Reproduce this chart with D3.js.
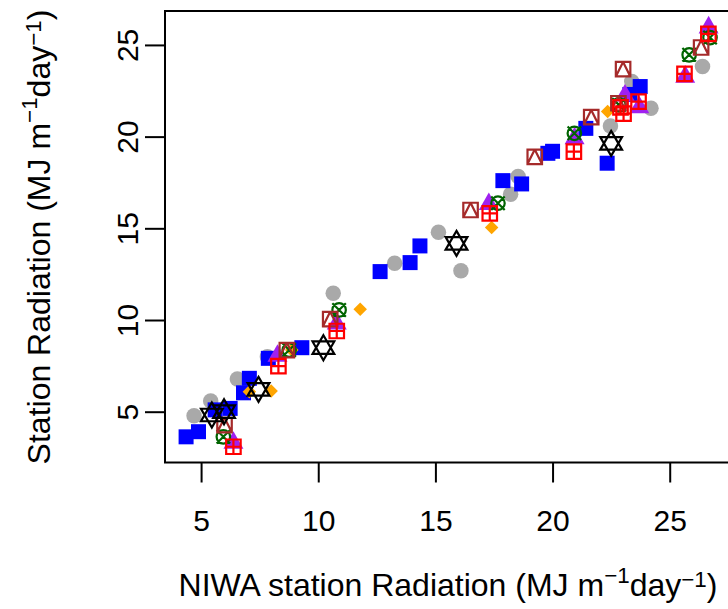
<!DOCTYPE html>
<html><head><meta charset="utf-8">
<script src="https://cdn.jsdelivr.net/npm/d3@7"></script>
<style>html,body{margin:0;padding:0;background:#fff}svg{display:block}text{font-family:"Liberation Sans",Arial,sans-serif;fill:#000}</style>
</head><body>
<script>
// ---- data (NIWA x, Station y) ----
const greyX   = [4.70,5.41,6.55,7.83,10.64,13.26,15.13,16.09,18.21,18.53,22.47,23.38,24.20,26.40];
const greyY   = [4.78,5.58,6.78,8.00,11.46,13.09,14.78,12.69,16.86,17.82,20.58,23.00,21.55,23.82];
const blueX   = [4.36,4.89,5.60,6.24,6.81,7.06,7.87,9.30,12.64,13.92,14.34,17.88,18.68,19.80,20.00,21.42,22.33,23.74,23.30];
const blueY   = [3.63,3.91,5.10,5.18,6.03,6.82,7.91,8.49,12.64,13.13,14.04,17.60,17.42,19.09,19.20,20.45,18.55,22.73,22.30];
const orangeX = [7.06,7.99,8.87,11.79,17.40,22.35];
const orangeY = [6.09,6.13,8.36,10.58,15.04,21.37];
const purpleX = [6.38,8.26,10.79,17.28,20.94,23.09,23.70,25.66,26.66];
const purpleY = [3.35,8.09,9.85,16.37,19.95,22.28,21.64,23.31,26.00];
const greenX  = [5.95,8.76,10.89,17.67,20.93,22.83,25.83,26.72];
const greenY  = [3.63,8.36,10.55,16.37,20.18,21.73,24.46,25.40];
const brownX  = [6.00,8.66,10.51,16.50,19.24,21.65,22.81,23.01,26.34];
const brownY  = [4.27,8.36,10.05,16.00,18.90,21.06,21.82,23.68,24.86];
const redX    = [6.38,8.30,10.79,17.32,20.91,22.90,23.03,23.67,25.63,26.65];
const redY    = [3.09,7.49,9.40,15.82,19.18,21.60,21.25,21.91,23.42,25.60];
const starX   = [5.46,5.98,7.45,10.22,15.90,22.50];
const starY   = [4.82,5.00,6.22,8.49,14.18,19.63];
const xTicks = [5,10,15,20,25];
const yTicks = [5,10,15,20,25];
const xLim = [3.46, 27.53];
const yLim = [2.23, 26.85];

const W = 728, H = 609;
const L = 165, T = 11, R = 729, B = 462.5;
const svg = d3.select("body").append("svg").attr("width", W).attr("height", H);
const x = d3.scaleLinear().domain(xLim).range([L, R]);
const y = d3.scaleLinear().domain(yLim).range([B, T]);

// marker path generators (size in px)
const P = {
  circle: s => { const r = s/2; return `M${-r},0A${r},${r} 0 1,0 ${r},0A${r},${r} 0 1,0 ${-r},0Z`; },
  square: s => { const h = s/2; return `M${-h},${-h}H${h}V${h}H${-h}Z`; },
  diamond: s => { const h = s/2; return `M0,${-h}L${h},0L0,${h}L${-h},0Z`; },
  tri: s => { const h = s/2; return `M0,${-h*1.08}L${h},${h*0.68}L${-h},${h*0.68}Z`; },
  star: s => { const w = s/2*0.87, h = s/2; return `M0,${-h}L${w},${h*0.5}L${-w},${h*0.5}ZM0,${h}L${w},${-h*0.5}L${-w},${-h*0.5}Z`; },
  cross: s => { const h = s/2, r = s/2; return `M${-r},0A${r},${r} 0 1,0 ${r},0A${r},${r} 0 1,0 ${-r},0ZM${-h},${-h}L${h},${h}M${-h},${h}L${h},${-h}`; },
  boxplus: s => { const h = s/2; return `M${-h},${-h}H${h}V${h}H${-h}ZM0,${-h}V${h}M${-h},0H${h}`; },
  boxtri: s => { const h = s/2; return `M${-h},${-h}H${h}V${h}H${-h}ZM0,${-h}L${h},${h}M0,${-h}L${-h},${h}`; }
};

const series = [
  {xs: greyX, ys: greyY, shape: "circle", size: 15.5, fill: "#A9A9A9", stroke: "none"},
  {xs: blueX, ys: blueY, shape: "square", size: 15, fill: "#0000FF", stroke: "none"},
  {xs: orangeX, ys: orangeY, shape: "diamond", size: 13.5, fill: "#FFA500", stroke: "none"},
  {xs: purpleX, ys: purpleY, shape: "tri", size: 20, fill: "#A020F0", stroke: "none"},
  {xs: greenX, ys: greenY, shape: "cross", size: 13.5, fill: "none", stroke: "#006400"},
  {xs: brownX, ys: brownY, shape: "boxtri", size: 14.5, fill: "none", stroke: "#A52A2A"},
  {xs: redX, ys: redY, shape: "boxplus", size: 14.5, fill: "none", stroke: "#FF0000"},
  {xs: starX, ys: starY, shape: "star", size: 25, fill: "none", stroke: "#000000"}
];

const g = svg.append("g");
series.forEach(s => {
  g.append("g").selectAll("path").data(s.xs.map((v,i)=>[v, s.ys[i]])).join("path")
    .attr("transform", d => `translate(${x(d[0])},${y(d[1])})`)
    .attr("d", P[s.shape](s.size))
    .attr("fill", s.fill).attr("stroke", s.stroke).attr("stroke-width", 2.2)
    .attr("stroke-linejoin","miter");
});

// box
svg.append("rect").attr("x", L).attr("y", T).attr("width", R - L).attr("height", B - T)
  .attr("fill","none").attr("stroke","#000").attr("stroke-width",2);

// axes
const fs = 30;
const xa = svg.append("g").attr("transform", `translate(0,${B})`)
  .call(d3.axisBottom(x).tickValues(xTicks).tickSize(20).tickPadding(0).tickFormat(d3.format("d")));
xa.select(".domain").remove();
xa.selectAll("line").attr("stroke","#000").attr("stroke-width",2);
xa.selectAll("text").attr("font-size", fs).attr("font-family","Liberation Sans, Arial, sans-serif")
  .attr("dy", null).attr("y", 68).attr("fill","#000");

const ya = svg.append("g").attr("transform", `translate(${L},0)`)
  .call(d3.axisLeft(y).tickValues(yTicks).tickSize(20).tickPadding(0).tickFormat(d3.format("d")));
ya.select(".domain").remove();
ya.selectAll("line").attr("stroke","#000").attr("stroke-width",2);
ya.selectAll("text").attr("font-size", fs).attr("font-family","Liberation Sans, Arial, sans-serif")
  .attr("x", null).attr("dy", null).attr("text-anchor","middle")
  .attr("transform","translate(-27,0) rotate(-90)").attr("fill","#000");

// titles with superscripts
function unitTitle(sel, pre) {
  sel.append("tspan").text(pre + " (MJ m");
  sel.append("tspan").attr("font-size","0.7em").attr("dy","-0.6em").text("\u22121");
  sel.append("tspan").attr("dy","0.42em").text("day");
  sel.append("tspan").attr("font-size","0.7em").attr("dy","-0.42em").text("\u22121");
  sel.append("tspan").attr("dy","0.294em").text(")");
}
const tfs = 32;
svg.append("text").attr("x", 448).attr("y", 596).attr("text-anchor","middle")
  .attr("font-size", tfs).call(s => unitTitle(s, "NIWA station Radiation"));
svg.append("text").attr("transform", `translate(50,237) rotate(-90)`).attr("text-anchor","middle")
  .attr("font-size", tfs).call(s => unitTitle(s, "Station Radiation"));
</script>
</body></html>
